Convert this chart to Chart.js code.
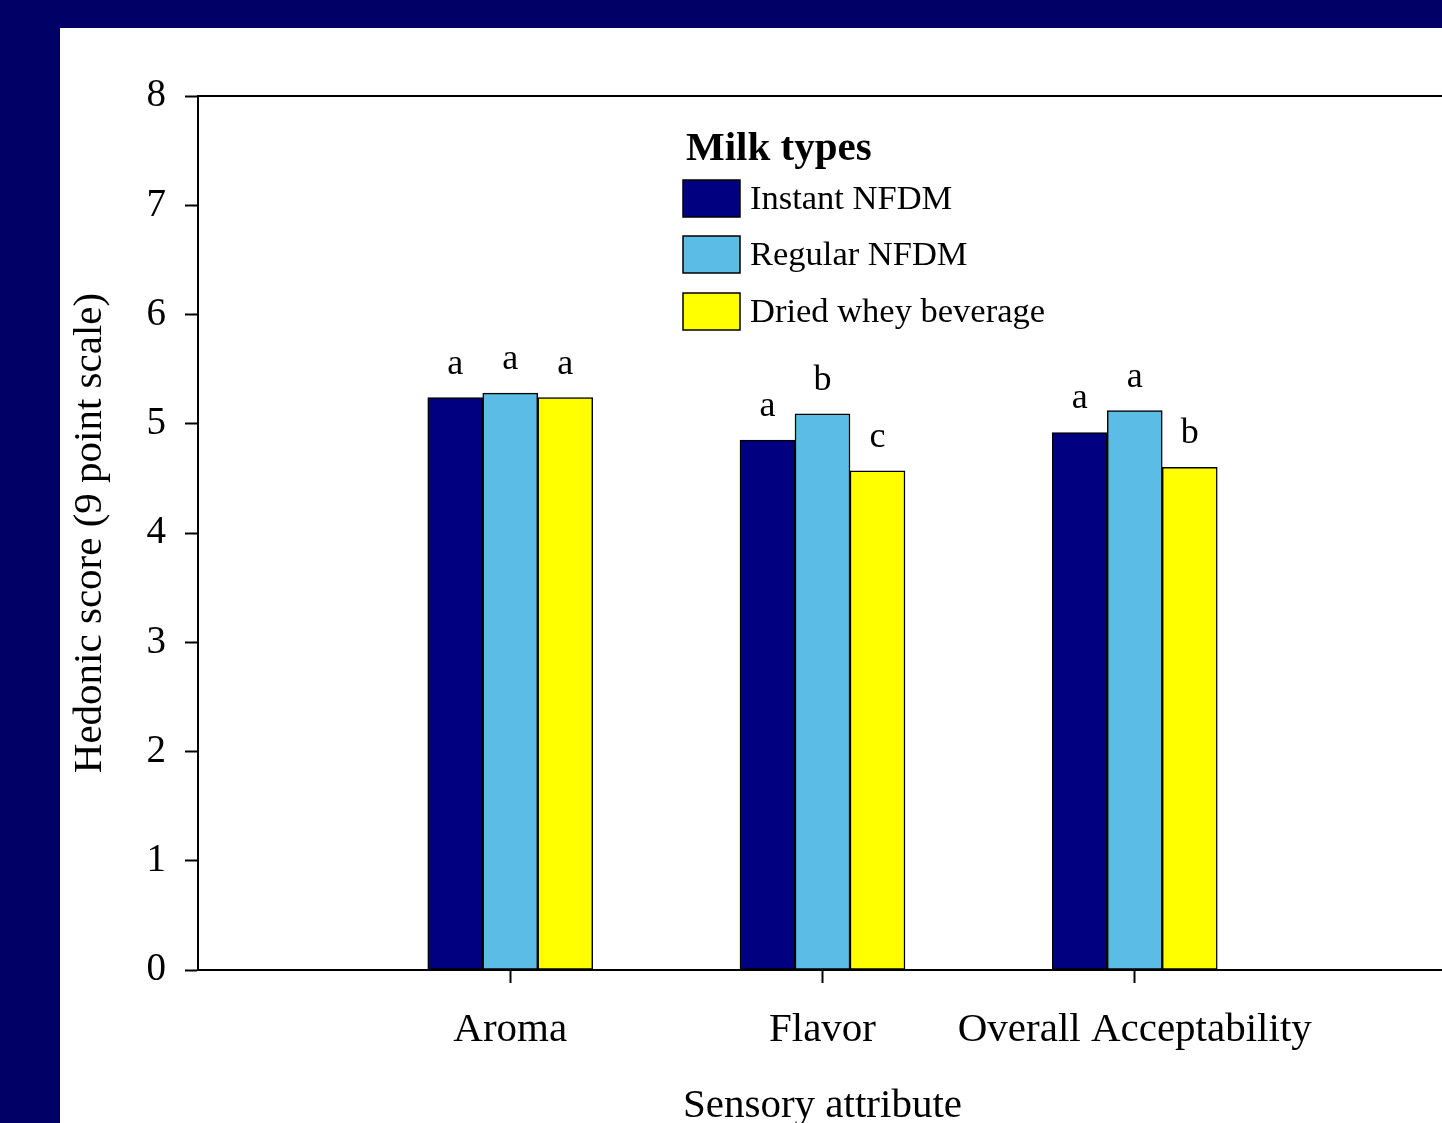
<!DOCTYPE html>
<html>
<head>
<meta charset="utf-8">
<title>Hedonic scores by milk type</title>
<script src="https://cdn.jsdelivr.net/npm/chart.js@4/dist/chart.umd.min.js"></script>
<style>
  html, body { margin: 0; padding: 0; width: 1442px; height: 1123px; overflow: hidden; background: #000066; }
  #panel { position: absolute; left: 60px; top: 28px; width: 1410px; height: 1120px; background: #ffffff; }
  canvas { display: block; }
</style>
</head>
<body>
<div id="panel"><canvas id="chart" width="1410" height="1120"></canvas></div>
<script>
// Sensory attributes on the x axis
const categories = ['Aroma', 'Flavor', 'Overall Acceptability'];

// Mean hedonic scores per milk type
const instantNFDM = [5.24, 4.85, 4.92];
const regularNFDM = [5.28, 5.09, 5.12];
const driedWhey   = [5.24, 4.57, 4.60];

// Significance letters shown above each bar
const instantLetters = ['a', 'a', 'a'];
const regularLetters = ['a', 'b', 'a'];
const wheyLetters    = ['a', 'c', 'b'];

// Y axis ticks
const yTicks = [0, 1, 2, 3, 4, 5, 6, 7, 8];

const seriesNames = ['Instant NFDM', 'Regular NFDM', 'Dried whey beverage'];
const SERIF = '"Liberation Serif", "Times New Roman", serif';

// One empty slot on each side keeps the groups spaced along the axis
const pad = arr => [null, ...arr, null];
const labels = pad(categories).map(v => v === null ? '' : v);

const letterSets = [instantLetters, regularLetters, wheyLetters];

const letterPlugin = {
  id: 'letters',
  afterDatasetsDraw(chart) {
    const ctx = chart.ctx;
    ctx.save();
    ctx.fillStyle = '#000';
    ctx.font = '36px ' + SERIF;
    ctx.textAlign = 'center';
    ctx.textBaseline = 'alphabetic';
    chart.data.datasets.forEach((ds, di) => {
      const meta = chart.getDatasetMeta(di);
      meta.data.forEach((bar, i) => {
        const ch = letterSets[di][i - 1];
        if (ds.data[i] === null || !ch) return;
        ctx.fillText(ch, bar.x, bar.y - 24);
      });
    });
    ctx.restore();
  }
};

const legendPlugin = {
  id: 'boxLegend',
  afterDraw(chart) {
    const ctx = chart.ctx;
    ctx.save();
    ctx.fillStyle = '#000';
    ctx.textAlign = 'left';
    ctx.textBaseline = 'middle';
    ctx.font = 'bold 41px ' + SERIF;
    ctx.fillText('Milk types', 626, 121);
    const rows = [152, 208, 265];
    ctx.font = '34.5px ' + SERIF;
    chart.data.datasets.forEach((ds, i) => {
      const y = rows[i];
      ctx.fillStyle = ds.backgroundColor;
      ctx.fillRect(623, y, 57, 37);
      ctx.strokeStyle = '#000';
      ctx.lineWidth = 1.5;
      ctx.strokeRect(623, y, 57, 37);
      ctx.fillStyle = '#000';
      ctx.fillText(ds.label, 690, y + 20);
    });
    ctx.restore();
  }
};

const barStyle = { borderColor: '#000', borderWidth: 1.5, borderSkipped: false, barThickness: 55 };

new Chart(document.getElementById('chart'), {
  type: 'bar',
  data: {
    labels: labels,
    datasets: [
      Object.assign({ label: seriesNames[0], data: pad(instantNFDM), backgroundColor: '#000080' }, barStyle),
      Object.assign({ label: seriesNames[1], data: pad(regularNFDM), backgroundColor: '#5BBDE6' }, barStyle),
      Object.assign({ label: seriesNames[2], data: pad(driedWhey),   backgroundColor: '#FFFF00' }, barStyle)
    ]
  },
  options: {
    responsive: false,
    animation: false,
    devicePixelRatio: 1,
    layout: { padding: { left: 0, right: 12, top: 0, bottom: 0 } },
    plugins: { legend: { display: false }, tooltip: { enabled: false } },
    scales: {
      x: {
        type: 'category',
        position: 'bottom',
        offset: false,
        grid: {
          display: true,
          offset: false,
          drawOnChartArea: false,
          drawTicks: true,
          tickLength: 13,
          tickWidth: 2,
          tickColor: c => (c.index === 0 || c.index === labels.length - 1) ? 'rgba(0,0,0,0)' : '#000'
        },
        border: { display: true, color: '#000', width: 2 },
        ticks: {
          autoSkip: false, maxRotation: 0, minRotation: 0,
          color: '#000', padding: 23,
          font: { family: SERIF, size: 41 }
        },
        title: {
          display: true, text: 'Sensory attribute', color: '#000',
          font: { family: SERIF, size: 41 },
          padding: { top: 0, bottom: 17 }
        },
        afterFit: s => { s.height = 178; }
      },
      x2: {
        type: 'category',
        position: 'top',
        offset: false,
        grid: { display: false },
        ticks: { display: false },
        border: { display: true, color: '#000', width: 2 },
        afterFit: s => { s.height = 68; }
      },
      y: {
        min: 0, max: 8,
        afterBuildTicks: s => { s.ticks = yTicks.map(v => ({ value: v })); },
        grid: { display: true, drawOnChartArea: false, tickLength: 13, tickWidth: 2, tickColor: '#000' },
        border: { display: true, color: '#000', width: 2 },
        ticks: { color: '#000', padding: 19, font: { family: SERIF, size: 39 } },
        title: {
          display: true, text: 'Hedonic score (9 point scale)', color: '#000',
          font: { family: SERIF, size: 41 },
          padding: { top: 6, bottom: 0 }
        },
        afterFit: s => { s.width = 138; }
      }
    }
  },
  plugins: [letterPlugin, legendPlugin]
});
</script>
</body>
</html>
